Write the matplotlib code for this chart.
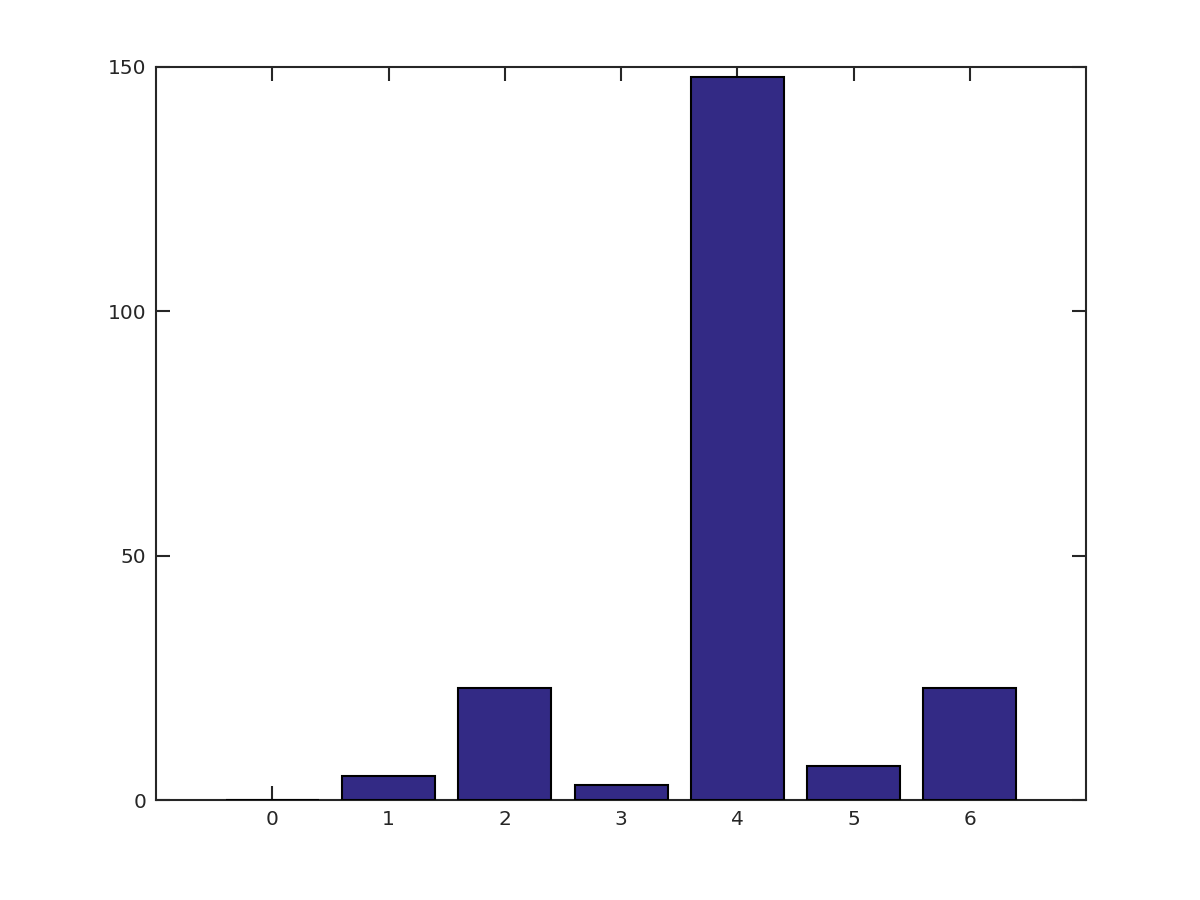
import matplotlib
matplotlib.use("Agg")
import matplotlib.pyplot as plt

categories = [0, 1, 2, 3, 4, 5, 6]
values = [0, 5, 23, 3, 148, 7, 23]
yticks = [0, 50, 100, 150]

fig = plt.figure(figsize=(12, 9), dpi=100)
ax = fig.add_axes([0.13, 0.1111, 0.775, 0.8145])
ax.set_axisbelow(True)
ax.bar(categories, values, width=0.8, color="#332a85", edgecolor="black",
       linewidth=1.5, zorder=3)
ax.set_xlim(-1, 7)
ax.set_ylim(0, 150)
ax.set_xticks(categories)
ax.set_yticks(yticks)
ax.tick_params(direction="in", length=10, width=1.5, top=True, right=True,
               labelsize=14.5, colors="#262626", pad=7)
for s in ax.spines.values():
    s.set_linewidth(1.5)
    s.set_color("#262626")
    s.set_zorder(2)
fig.savefig("out.png", dpi=100)
